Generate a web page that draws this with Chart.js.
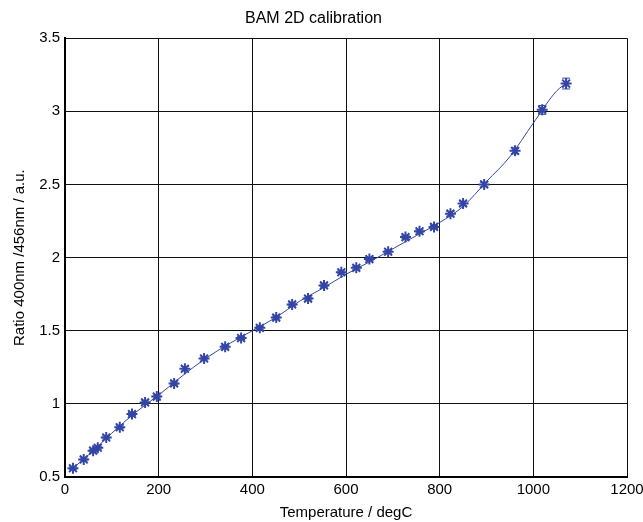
<!DOCTYPE html>
<html>
<head>
<meta charset="utf-8">
<script src="https://cdn.jsdelivr.net/npm/chart.js@4/dist/chart.umd.min.js"></script>
<style>
  html, body { margin: 0; padding: 0; background: #fff; }
  #wrap { width: 643px; height: 522px; }
</style>
</head>
<body>
<div id="wrap"><canvas id="calib"></canvas></div>
<script>
// measured points
const temps = [17, 40, 60, 70, 88, 117, 143, 171, 196, 233, 256, 297, 342, 376, 416, 451, 485, 519, 553, 590, 622, 650, 690, 727, 757, 788, 823, 850, 895, 961, 1019, 1070]
const ratios = [0.56, 0.62, 0.68, 0.70, 0.77, 0.84, 0.93, 1.01, 1.05, 1.14, 1.24, 1.31, 1.39, 1.45, 1.52, 1.59, 1.68, 1.72, 1.81, 1.90, 1.93, 1.99, 2.04, 2.14, 2.18, 2.21, 2.30, 2.37, 2.50, 2.73, 3.01, 3.19]
const errors = [0.01, 0.01, 0.01, 0.01, 0.01, 0.01, 0.01, 0.01, 0.01, 0.01, 0.015, 0.01, 0.01, 0.01, 0.01, 0.01, 0.01, 0.01, 0.01, 0.01, 0.01, 0.01, 0.01, 0.01, 0.01, 0.01, 0.015, 0.015, 0.015, 0.02, 0.03, 0.037]

// fitted curve
const fitTemps = [15, 50, 100, 150, 200, 250, 300, 350, 400, 450, 500, 550, 600, 650, 700, 750, 800, 850, 900, 950, 1000, 1050, 1075]
const fitRatios = [0.555, 0.65, 0.80, 0.94, 1.06, 1.19, 1.31, 1.41, 1.50, 1.59, 1.70, 1.79, 1.886, 1.97, 2.06, 2.15, 2.24, 2.35, 2.52, 2.69, 2.92, 3.14, 3.20]

const xTicks = [0, 200, 400, 600, 800, 1000, 1200]
const yTicks = [0.5, 1, 1.5, 2, 2.5, 3, 3.5]

const blue = '#3346a6'
const font = { family: '"Liberation Sans", Arial, Helvetica, sans-serif', size: 15 }

const errorBars = {
  id: 'errorBars',
  afterDatasetsDraw(chart) {
    const { ctx, scales: { x, y } } = chart
    ctx.save()
    ctx.strokeStyle = blue
    ctx.lineWidth = 1
    temps.forEach((t, i) => {
      const px = x.getPixelForValue(t)
      const top = y.getPixelForValue(ratios[i] + errors[i])
      const bot = y.getPixelForValue(ratios[i] - errors[i])
      ctx.beginPath()
      ctx.moveTo(px, top); ctx.lineTo(px, bot)
      ctx.moveTo(px - 4, top); ctx.lineTo(px + 4, top)
      ctx.moveTo(px - 4, bot); ctx.lineTo(px + 4, bot)
      ctx.stroke()
    })
    ctx.restore()
  }
}

new Chart('calib', {
  type: 'scatter',
  data: {
    datasets: [
      {
        label: 'fit',
        data: fitTemps.map((t, i) => ({ x: t, y: fitRatios[i] })),
        showLine: true,
        borderColor: blue,
        borderWidth: 1,
        pointRadius: 0,
        cubicInterpolationMode: 'monotone'
      },
      {
        label: 'data',
        data: temps.map((t, i) => ({ x: t, y: ratios[i] })),
        pointStyle: 'star',
        pointRadius: 5.5,
        pointBorderWidth: 2,
        pointBorderColor: blue,
        pointBackgroundColor: blue
      }
    ]
  },
  options: {
    responsive: true,
    maintainAspectRatio: false,
    animation: false,
    layout: { padding: { left: 0, right: 16, top: 0, bottom: 0 } },
    plugins: {
      legend: { display: false },
      tooltip: { enabled: false },
      title: {
        display: true,
        text: 'BAM 2D calibration',
        color: '#000',
        font: { ...font, size: 16, weight: 'normal' },
        padding: { top: 9, bottom: 10 }
      }
    },
    scales: {
      x: {
        type: 'linear',
        min: 0,
        max: 1200,
        afterBuildTicks: s => { s.ticks = xTicks.map(v => ({ value: v })) },
        afterFit: s => { s.height = 45; s.paddingRight = 0; s.paddingLeft = 0 },
        ticks: { color: '#000', font, padding: 4, maxRotation: 0, callback: v => String(v) },
        grid: { color: '#111', lineWidth: 1, drawTicks: false },
        border: { color: '#000', width: 2 },
        title: { display: true, text: 'Temperature / degC', color: '#000', font, padding: { top: 2, bottom: 0 } }
      },
      y: {
        type: 'linear',
        min: 0.5,
        max: 3.5,
        afterBuildTicks: s => { s.ticks = yTicks.map(v => ({ value: v })) },
        afterFit: s => { s.width = 65 },
        ticks: { color: '#000', font, padding: 5, callback: v => String(v) },
        grid: { color: '#111', lineWidth: 1, drawTicks: false },
        border: { color: '#000', width: 2 },
        title: { display: true, text: 'Ratio 400nm /456nm / a.u.', color: '#000', font, padding: { top: 11, bottom: 4 } }
      }
    }
  },
  plugins: [errorBars]
})
</script>
</body>
</html>
